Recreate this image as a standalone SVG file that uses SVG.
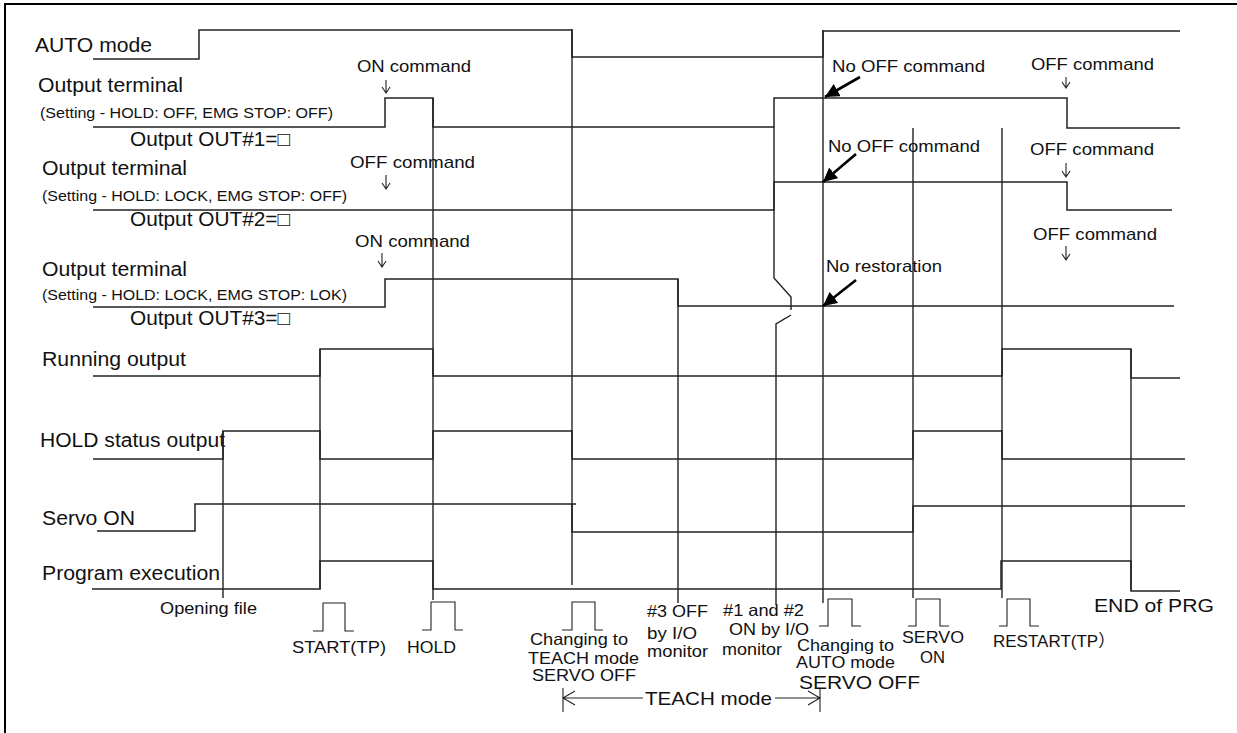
<svg xmlns="http://www.w3.org/2000/svg" width="1237" height="733" viewBox="0 0 1237 733">
<style>
text{font-family:"Liberation Sans",Arial,"Noto Sans CJK JP",sans-serif;fill:#111}
.lbl{font-size:20px}
.sub{font-size:14.5px}
.cmd{font-size:17px}
.ev{font-size:16.5px}
.big{font-size:19px}
.tr{fill:none;stroke:#222;stroke-width:1.5}
.vl{fill:none;stroke:#222;stroke-width:1.4}
.thin{fill:none;stroke:#222;stroke-width:1.1}
.bk{fill:none;stroke:#000;stroke-width:2.6}
</style>
<defs>
<marker id="ah" markerUnits="userSpaceOnUse" markerWidth="16" markerHeight="14" refX="14" refY="7" orient="auto">
<path d="M0,0 L14,7 L0,14 Z" fill="#000"/>
</marker>
</defs>
<rect width="1237" height="733" fill="#fff"/>
<path d="M5,733 V4 H1237" fill="none" stroke="#000" stroke-width="2"/>

<g id="sig-auto">
<text class="lbl" x="35" y="52" textLength="117" lengthAdjust="spacingAndGlyphs">AUTO mode</text>
<path class="tr" d="M93,59 H199 V30 H572 V57 H823 V31 H1180"/>
</g>
<g id="sig-out1">
<text class="lbl" x="38" y="92" textLength="145" lengthAdjust="spacingAndGlyphs">Output terminal</text>
<text class="sub" x="40" y="118" textLength="293" lengthAdjust="spacingAndGlyphs">(Setting - HOLD: OFF, EMG STOP: OFF)</text>
<text class="lbl" x="130" y="146" textLength="160" lengthAdjust="spacingAndGlyphs">Output OUT#1=□</text>
<path class="tr" d="M93,127 H385 V98 H433 V127 H774 V98 H1067 V128 H1180"/>
</g>
<g id="sig-out2">
<text class="lbl" x="42" y="175" textLength="145" lengthAdjust="spacingAndGlyphs">Output terminal</text>
<text class="sub" x="42" y="201" textLength="305" lengthAdjust="spacingAndGlyphs">(Setting - HOLD: LOCK, EMG STOP: OFF)</text>
<text class="lbl" x="130" y="226" textLength="160" lengthAdjust="spacingAndGlyphs">Output OUT#2=□</text>
<path class="tr" d="M93,210 H774 V182 H1067 V210 H1172"/>
</g>
<g id="sig-out3">
<text class="lbl" x="42" y="276" textLength="145" lengthAdjust="spacingAndGlyphs">Output terminal</text>
<text class="sub" x="42" y="300" textLength="305" lengthAdjust="spacingAndGlyphs">(Setting - HOLD: LOCK, EMG STOP: LOK)</text>
<text class="lbl" x="130" y="325" textLength="160" lengthAdjust="spacingAndGlyphs">Output OUT#3=□</text>
<path class="tr" d="M93,307 H385 V279 H678 V306 H1174"/>
</g>
<g id="sig-running">
<text class="lbl" x="42" y="366" textLength="144" lengthAdjust="spacingAndGlyphs">Running output</text>
<path class="tr" d="M93,376 H320 V349 H433 V376 H1002 V349 H1131 V378 H1180"/>
</g>
<g id="sig-hold">
<text class="lbl" x="40" y="447" textLength="185" lengthAdjust="spacingAndGlyphs">HOLD status output</text>
<path class="tr" d="M93,459 H223 V431 H320 V459 H433 V431 H572 V459 H913 V431 H1002 V459 H1185"/>
</g>
<g id="sig-servo">
<text class="lbl" x="42" y="525" textLength="93" lengthAdjust="spacingAndGlyphs">Servo ON</text>
<path class="tr" d="M97,531 H195 V504 H576 M572,504 V532 H913 V506 H1185"/>
</g>
<g id="sig-program">
<text class="lbl" x="42" y="580" textLength="178" lengthAdjust="spacingAndGlyphs">Program execution</text>
<path class="tr" d="M92,589 H320 V561 H433 V589 H1001 V561 H1131 V591 H1180"/>
</g>

<g id="connectors">
<path class="vl" d="M223,431 V598"/>
<path class="vl" d="M320,349 V589"/>
<path class="vl" d="M433,98 V600"/>
<path class="vl" d="M572,29 V585"/>
<path class="vl" d="M678,279 V603"/>
<path class="vl" d="M774,127 V278 L791,297 V310"/>
<path class="vl" d="M791,315 L776,324 V605"/>
<path class="vl" d="M823,30 V603"/>
<path class="vl" d="M913,128 V598"/>
<path class="vl" d="M1002,128 V598"/>
<path class="vl" d="M1131,349 V590"/>
<path class="thin" d="M386,80 V93 M382,87 L386,93 L390,87"/>
<path class="thin" d="M386,175 V189 M382,183 L386,189 L390,183"/>
<path class="thin" d="M382,253 V267 M378,261 L382,267 L386,261"/>
<path class="thin" d="M1066,77 V88 M1062,82 L1066,88 L1070,82"/>
<path class="thin" d="M1066,163 V177 M1062,171 L1066,177 L1070,171"/>
<path class="thin" d="M1066,246 V260 M1062,254 L1066,260 L1070,254"/>
<path class="bk" d="M860,77 L825,97" marker-end="url(#ah)"/>
<path class="bk" d="M856,154 L823,182" marker-end="url(#ah)"/>
<path class="bk" d="M856,280 L823,306" marker-end="url(#ah)"/>
<path class="thin" d="M313,631 H323 V603 H345 V631 H354"/>
<path class="thin" d="M422,630 H431 V602 H455 V630 H463"/>
<path class="thin" d="M562,630 H572 V602 H595 V630 H603"/>
<path class="thin" d="M819,626 H828 V599 H852 V626 H861"/>
<path class="thin" d="M908,626 H916 V599 H940 V626 H949"/>
<path class="thin" d="M999,626 H1007 V599 H1030 V626 H1039"/>
<path class="thin" d="M563,688 V712 M820,688 V712 M563,698 H643 M775,698 H820 M575,691 L563,698 L575,705 M808,691 L820,698 L808,705"/>
</g>

<g id="annotations">
<text class="cmd" x="357" y="72" textLength="114" lengthAdjust="spacingAndGlyphs">ON command</text>
<text class="cmd" x="350" y="168" textLength="125" lengthAdjust="spacingAndGlyphs">OFF command</text>
<text class="cmd" x="355" y="247" textLength="115" lengthAdjust="spacingAndGlyphs">ON command</text>
<text class="cmd" x="832" y="72" textLength="153" lengthAdjust="spacingAndGlyphs">No OFF command</text>
<text class="cmd" x="1031" y="70" textLength="123" lengthAdjust="spacingAndGlyphs">OFF command</text>
<text class="cmd" x="828" y="152" textLength="152" lengthAdjust="spacingAndGlyphs">No OFF command</text>
<text class="cmd" x="1030" y="155" textLength="124" lengthAdjust="spacingAndGlyphs">OFF command</text>
<text class="cmd" x="1033" y="240" textLength="124" lengthAdjust="spacingAndGlyphs">OFF command</text>
<text class="cmd" x="826" y="272" textLength="116" lengthAdjust="spacingAndGlyphs">No restoration</text>
<text class="ev" x="160" y="614" textLength="97" lengthAdjust="spacingAndGlyphs">Opening file</text>
<text class="ev" x="292" y="653" textLength="94" lengthAdjust="spacingAndGlyphs">START(TP)</text>
<text class="ev" x="407" y="653" textLength="49" lengthAdjust="spacingAndGlyphs">HOLD</text>
<text class="ev" x="530" y="645" textLength="98" lengthAdjust="spacingAndGlyphs">Changing to</text>
<text class="ev" x="528" y="664" textLength="111" lengthAdjust="spacingAndGlyphs">TEACH mode</text>
<text class="ev" x="532" y="681" textLength="104" lengthAdjust="spacingAndGlyphs">SERVO OFF</text>
<text class="ev" x="647" y="617" textLength="61" lengthAdjust="spacingAndGlyphs">#3 OFF</text>
<text class="ev" x="647" y="639" textLength="50" lengthAdjust="spacingAndGlyphs">by I/O</text>
<text class="ev" x="647" y="657" textLength="61" lengthAdjust="spacingAndGlyphs">monitor</text>
<text class="ev" x="723" y="616" textLength="81" lengthAdjust="spacingAndGlyphs">#1 and #2</text>
<text class="ev" x="729" y="635" textLength="80" lengthAdjust="spacingAndGlyphs">ON by I/O</text>
<text class="ev" x="722" y="655" textLength="60" lengthAdjust="spacingAndGlyphs">monitor</text>
<text class="ev" x="797" y="651" textLength="97" lengthAdjust="spacingAndGlyphs">Changing to</text>
<text class="ev" x="796" y="668" textLength="99" lengthAdjust="spacingAndGlyphs">AUTO mode</text>
<text class="big" x="799" y="689" textLength="121" lengthAdjust="spacingAndGlyphs">SERVO OFF</text>
<text class="ev" x="902" y="643" textLength="62" lengthAdjust="spacingAndGlyphs">SERVO</text>
<text class="ev" x="920" y="663" textLength="25" lengthAdjust="spacingAndGlyphs">ON</text>
<text class="ev" x="993" y="647" style="font-size:17px">RESTART(TP）</text>
<text class="big" x="1094" y="612" textLength="120" lengthAdjust="spacingAndGlyphs">END of PRG</text>
<text class="big" x="645" y="705" textLength="127" lengthAdjust="spacingAndGlyphs">TEACH mode</text>
</g>
</svg>
